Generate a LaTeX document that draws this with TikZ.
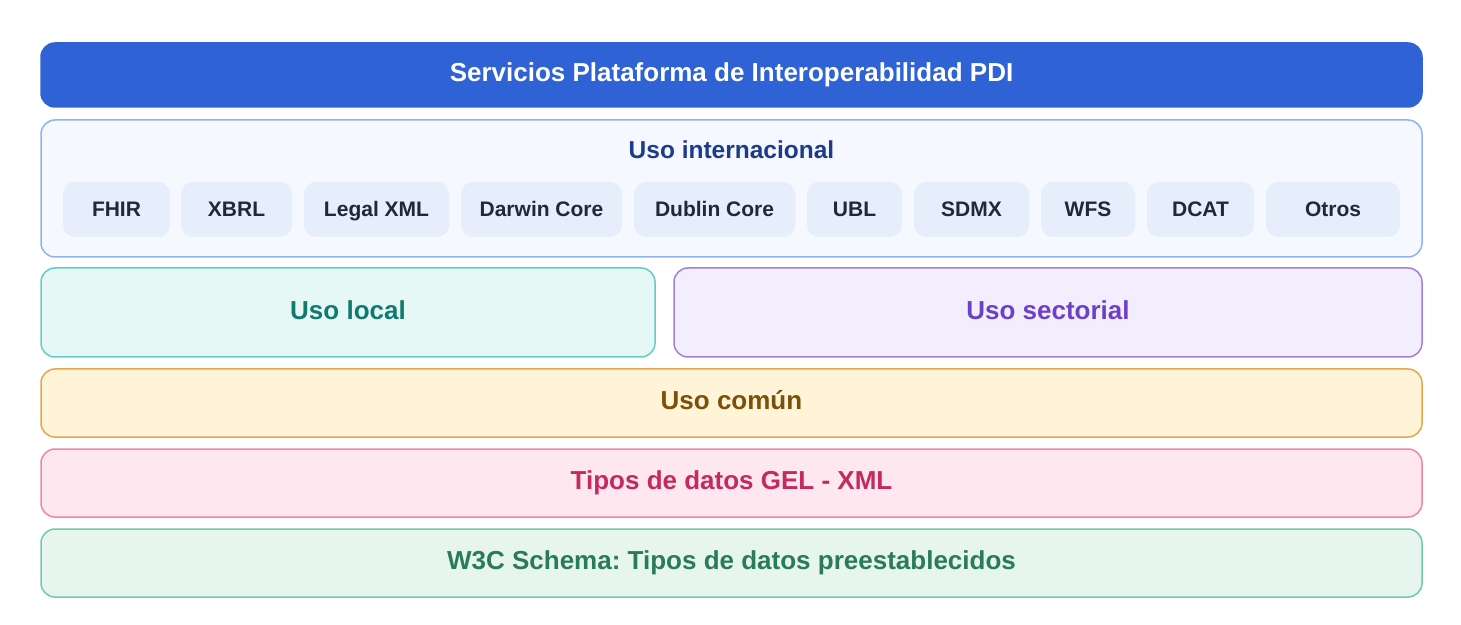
\documentclass[tikz,border=0pt]{standalone}
\usepackage{fontspec}
\setmainfont{Liberation Sans}
\frenchspacing
\definecolor{pdiblue}{RGB}{47, 98, 212}
\definecolor{intlborder}{RGB}{143, 178, 245}
\definecolor{intlfill}{RGB}{245, 248, 254}
\definecolor{intltext}{RGB}{30, 58, 138}
\definecolor{chipfill}{RGB}{230, 238, 252}
\definecolor{chiptext}{RGB}{31, 41, 55}
\definecolor{localborder}{RGB}{100, 204, 194}
\definecolor{localfill}{RGB}{230, 248, 246}
\definecolor{localtext}{RGB}{17, 122, 112}
\definecolor{sectborder}{RGB}{160, 126, 222}
\definecolor{sectfill}{RGB}{243, 238, 254}
\definecolor{secttext}{RGB}{109, 64, 200}
\definecolor{comunborder}{RGB}{230, 166, 76}
\definecolor{comunfill}{RGB}{255, 243, 216}
\definecolor{comuntext}{RGB}{124, 80, 6}
\definecolor{gelborder}{RGB}{238, 134, 166}
\definecolor{gelfill}{RGB}{254, 231, 239}
\definecolor{geltext}{RGB}{196, 42, 94}
\definecolor{wtcborder}{RGB}{112, 202, 166}
\definecolor{wtcfill}{RGB}{231, 245, 239}
\definecolor{wtctext}{RGB}{42, 122, 94}
\usetikzlibrary{positioning}

\begin{document}
\begin{tikzpicture}[x=0.5pt, y=-0.5pt,
    layer/.style={rounded corners=7pt, line width=0.75pt, font=\fontsize{13}{15}\selectfont\bfseries, inner sep=0pt, text height=1.7ex, text depth=0.4ex},
    chipbox/.style={fill=chipfill, rounded corners=6pt, minimum height=27.5pt, inner sep=0pt, text=chiptext, font=\fontsize{10.5}{12}\selectfont\bfseries, text height=1.7ex, text depth=0.4ex}]
  \useasboundingbox (0,0) rectangle (1461,625);
  % Platform bar
  \node[layer, fill=pdiblue, draw=pdiblue, text=white, minimum width=690.5pt, minimum height=32pt] (pdi) at (731.5, 75) {Servicios Plataforma de Interoperabilidad PDI};
  % International use
  \node[layer, fill=intlfill, draw=intlborder, minimum width=690.5pt, minimum height=68.5pt] (intl) at (731.5, 188.5) {};
  \node[text=intltext, font=\fontsize{12.25}{14}\selectfont\bfseries] (intltitle) at (731.5, 150) {Uso internacional};
  \foreach \name/\cx/\w in {FHIR/116.5/107, XBRL/236.5/111, Legal XML/376.5/145, Darwin Core/541.5/161, Dublin Core/714.5/161, UBL/854.5/95, SDMX/971.5/115, WFS/1088/94, DCAT/1200.5/107, Otros/1333/134}
    \node[chipbox, minimum width=\w*0.5pt] (chip-\cx) at (\cx, 209.5) {\name};
  % Local and sectorial use
  \node[layer, fill=localfill, draw=localborder, text=localtext, minimum width=307pt, minimum height=44.5pt] (local) at (348, 312.5) {Uso local};
  \node[layer, fill=sectfill, draw=sectborder, text=secttext, minimum width=374pt, minimum height=44.5pt] (sect) at (1048, 312.5) {Uso sectorial};
  % Common use
  \node[layer, fill=comunfill, draw=comunborder, text=comuntext, minimum width=690.5pt, minimum height=34pt] (comun) at (731.5, 403) {Uso común};
  % GEL data types
  \node[layer, fill=gelfill, draw=gelborder, text=geltext, minimum width=690.5pt, minimum height=34pt] (gel) at (731.5, 483) {Tipos de datos GEL - XML};
  % W3C schema
  \node[layer, fill=wtcfill, draw=wtcborder, text=wtctext, minimum width=690.5pt, minimum height=34pt] (wtc) at (731.5, 563) {W3C Schema: Tipos de datos preestablecidos};
\end{tikzpicture}
\end{document}
